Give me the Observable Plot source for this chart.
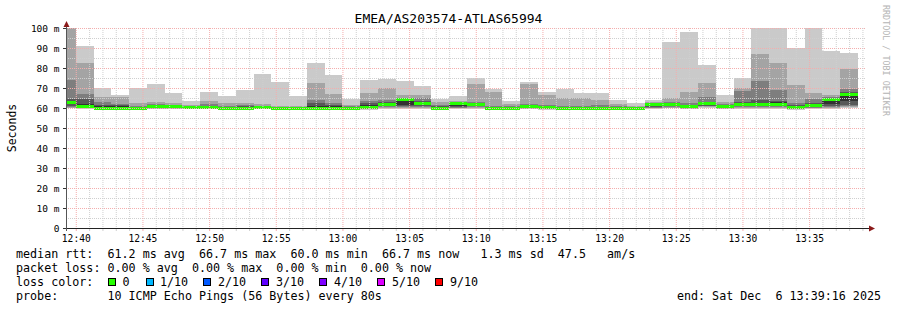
<!DOCTYPE html>
<html><head><meta charset="utf-8">
<script src="https://cdn.jsdelivr.net/npm/d3@7"></script>
<script src="https://cdn.jsdelivr.net/npm/@observablehq/plot@0.6"></script>
<style>
html,body{margin:0;padding:0;background:#fff;}
#chart{position:relative;width:897px;height:310px;overflow:hidden;}
svg text{font-family:"DejaVu Sans Mono",monospace;}
</style></head><body><div id="chart"></div>
<script>
// ---- data (ms) ----
const binStart = ["12:38:40","12:40:00","12:41:20","12:42:40","12:44:00","12:45:20","12:46:40","12:48:00","12:49:20","12:50:40",
  "12:52:00","12:53:20","12:54:40","12:56:00","12:57:20","12:58:40","13:00:00","13:01:20","13:02:40","13:04:00",
  "13:05:20","13:06:40","13:08:00","13:09:20","13:10:40","13:12:00","13:13:20","13:14:40","13:16:00","13:17:20",
  "13:18:40","13:20:00","13:21:20","13:22:40","13:24:00","13:25:20","13:26:40","13:28:00","13:29:20","13:30:40",
  "13:32:00","13:33:20","13:34:40","13:36:00","13:37:20"];
const p10 = [105,91,70,66.5,70,72,67.5,63.5,68,66, 69,77,73,66,82.5,76.5,64.5,74,74.5,73.5, 71,64.5,66,75,69.5,63.5,73,68,69.5,67.5, 67.5,64,62.5,64,93,98,81.5,66.5,75,110, 110,90,105,88.5,87.5];
const p9  = [101,82.5,65.3,65.3,62.5,63,62.5,61.3,63.5,62.5, 62.5,62,61,61,72.5,67,61.7,67.5,70,66.5, 66.5,63,63.5,72,68,62,72,66.5,65,65, 64,62,61,63,65,68,72.5,63,70,87, 82.5,71.5,67.5,66.5,79.5];
const p8  = [73.8,67.2,63.2,62,61,61.8,61.5,61,61.8,61.2, 61.3,61.2,60.6,60.6,64,62.5,60.8,63.5,64,65.2, 65,61.5,63,63,61,60.8,62,61.5,61,61, 61.5,60.8,60.5,62.5,63,62.5,65.5,62,68.5,73.5, 69,62.5,64.5,65.5,69.5];
const p7  = [64.3,64.3,61.5,61.5,60.7,61.2,61.2,60.8,61,60.6, 60.8,60.8,60.4,60.4,62.5,61.5,60.4,62.5,63,65, 63.5,60.8,62.8,62.5,60.5,60.4,61.5,61,60.5,60.5, 60.5,60.3,60.3,62.2,62.5,61.5,63,61.5,63,64, 63.5,61.5,62.5,65,68];
const p6  = [63.5,62,60.8,60.8,60.4,61,61,60.7,60.8,60.2, 60.4,60.7,60.2,60.2,61,60.8,60.2,61.5,62.6,64.8, 63,60.4,62.6,62.1,60.2,60.1,61.2,60.6,60.1,60.1, 60.1,60.1,60.1,62,62.2,61,62.5,61.2,62.4,62.5, 63,61,61.8,64.8,67.2];
const median = [63,61,60,60,60,60.8,60.8,60.5,60.5,60, 60,60.5,60,60,60,60,60,60.5,62,64.5, 62.3,60,62.3,61.7,60,60,61,60.3,60,60, 60,60,60,61.7,62,60.7,62.2,61,62,62, 62,60.5,61.5,64.3,66.7];
const p5  = [62.2,60.5,59.8,59.7,59.7,60.3,60.3,60.2,60.2,59.6, 59.8,60.2,59.8,59.8,59.8,59.8,59.6,60,61.3,61.7, 61.3,59.7,61.2,61.3,59.6,59.6,60.5,60,59.6,59.6, 59.6,59.6,59.8,61,61.5,60.4,61.8,60.6,61.5,61.5, 61.6,60.2,61,62,63.7];
const p4  = [61,60.2,59.6,59.5,59.5,60,60,60,60,59.5, 59.6,60,59.6,59.6,59.6,59.6,59.5,59.7,60.8,61, 60.8,59.5,60.5,61,59.5,59.5,60.2,59.8,59.5,59.5, 59.5,59.5,59.6,60.5,61,60.2,61.2,60.3,61,60.8, 61,59.9,60.6,61,61.5];
const p3  = [60.5,60,59.5,59.3,59.3,59.8,59.8,59.8,59.8,59.4, 59.5,59.8,59.5,59.5,59.5,59.5,59.4,59.5,60.3,60.5, 60.3,59.4,60.2,60.5,59.4,59.4,60,59.6,59.4,59.4, 59.4,59.4,59.5,60.2,60.6,60,60.8,60,60.5,60.3, 60.5,59.7,60.2,60.5,61];
const p2  = [60.2,59.8,59.4,59.2,59.2,59.6,59.6,59.6,59.6,59.3, 59.3,59.6,59.3,59.3,59.3,59.3,59.3,59.3,60,60, 60,59.3,59.9,60,59.3,59.3,59.7,59.4,59.3,59.3, 59.3,59.3,59.3,59.9,60.2,59.7,60.3,59.7,60,59.9, 60.1,59.5,59.9,60,60.3];
const p1  = [59.8,59.5,59.2,59,59,59.3,59.3,59.3,59.3,59.1, 59.1,59.3,59.1,59.1,59.1,59.1,59.1,59.1,59.6,59.5, 59.6,59.1,59.5,59.6,59.1,59.1,59.4,59.2,59.1,59.1, 59.1,59.1,59.1,59.6,59.8,59.4,59.9,59.4,59.6,59.5, 59.7,59.2,59.5,59.5,59.8];

const stepSeconds = 80;
const windowStart = "12:39:16", windowEnd = "13:39:16";
const yTicks = [0,10,20,30,40,50,60,70,80,90,100];
const yTickLabels = ["0","10 m","20 m","30 m","40 m","50 m","60 m","70 m","80 m","90 m","100 m"];
const xTickLabels = ["12:40","12:45","12:50","12:55","13:00","13:05","13:10","13:15","13:20","13:25","13:30","13:35"];
const titleText = "EMEA/AS203574-ATLAS65994";
const yLabel = "Seconds";
const statsLines = [
  "median rtt:  61.2 ms avg  66.7 ms max  60.0 ms min  66.7 ms now   1.3 ms sd  47.5   am/s",
  "packet loss: 0.00 % avg  0.00 % max  0.00 % min  0.00 % now"
];
const lossTitle = "loss color:";
const lossLabels = ["0","1/10","2/10","3/10","4/10","5/10","9/10"];
const lossColors = ["#26ff00","#00b8ff","#0059ff","#5e00ff","#7e00ff","#dd00ff","#ff0000"];
const probeLine = "probe:       10 ICMP Echo Pings (56 Bytes) every 80s";
const endLine = "end: Sat Dec  6 13:39:16 2025";
const watermark = "RRDTOOL / TOBI OETIKER";

// ---- build ----
const T = s => { const [h,m,sec] = s.split(":").map(Number); return new Date(Date.UTC(2025,11,6,h,m,sec||0)); };
const rows = binStart.map((s,i) => ({
  start: T(s), end: new Date(T(s).getTime() + stepSeconds*1000),
  p1:p1[i],p2:p2[i],p3:p3[i],p4:p4[i],p5:p5[i],p6:p6[i],p7:p7[i],p8:p8[i],p9:p9[i],p10:p10[i],median:median[i]
}));
const xDomain = [T(windowStart), T(windowEnd)];
const majorX = xTickLabels.map(T);
const minorX = d3.utcMinute.range(xDomain[0], xDomain[1]).filter(d => d.getUTCMinutes() % 5 !== 0);
const majorY = yTicks.filter(v => v > 0);
const minorY = yTicks.slice(0,-1).map(v => v + 5);

const bands = [["p1","p10","#cacaca"],["p2","p9","#a4a4a4"],["p3","p8","#7e7e7e"],["p4","p7","#585858"],["p5","p6","#323232"]];
const dotted = "1,1";
const gridMinor = "#cfcfcf", gridMajor = "#f4adad";

const plot = Plot.plot({
  width: 897, height: 310,
  marginLeft: 66, marginRight: 31, marginTop: 28, marginBottom: 82,
  style: {background: "#fff", fontFamily: "DejaVu Sans Mono", color: "#000", overflow: "visible"},
  x: {type: "utc", domain: xDomain},
  y: {domain: [0, 100]},
  marks: [
    ...bands.map(([lo,hi,c]) => Plot.rect(rows, {x1:"start", x2:"end", y1:lo, y2:hi, fill:c, clip:true, shapeRendering:"crispEdges"})),
    Plot.rect(rows, {x1:"start", x2:"end", y1: d => d.median - 0.75, y2: d => d.median + 0.75, fill: lossColors[0], clip:true, shapeRendering:"crispEdges"}),
    Plot.gridY(minorY, {stroke:gridMinor, strokeOpacity:1, strokeDasharray:dotted}),
    Plot.gridY(majorY, {stroke:gridMajor, strokeOpacity:1, strokeDasharray:dotted}),
    Plot.gridX(minorX, {stroke:gridMinor, strokeOpacity:1, strokeDasharray:dotted}),
    Plot.gridX(majorX, {stroke:gridMajor, strokeOpacity:1, strokeDasharray:dotted}),
    Plot.axisX(minorX, {tickSize: 3, stroke:gridMinor, strokeOpacity:1, tickFormat: () => ""}),
    Plot.axisX(majorX, {tickSize: 3, stroke:gridMajor, strokeOpacity:1, tickPadding: 4, fill:"#000", fontSize: 9.6,
      tickFormat: (d,i) => xTickLabels[i], label: null}),
    Plot.axisY(yTicks, {tickSize: 3, tickPadding: 4, fontSize: 9.5, fill:"#000", stroke:"#333",
      tickFormat: (d,i) => yTickLabels[i], label: null})
  ]
});
document.getElementById("chart").appendChild(plot);

// ---- decorations (axes lines, arrows, texts) ----
const svg = d3.select(plot);
const xs = plot.scale("x"), ys = plot.scale("y");
const x0 = xs.range[0], x1 = xs.range[1], y0 = ys.range[0], yTop = ys.range[1];
const g = svg.append("g").attr("text-anchor", "start");
g.append("line").attr("x1", x0).attr("x2", x1 + 4).attr("y1", y0 + 0.5).attr("y2", y0 + 0.5).attr("stroke", "#222").attr("stroke-width", 1);
g.append("line").attr("x1", x0 + 0.5).attr("x2", x0 + 0.5).attr("y1", y0 + 3).attr("y2", yTop - 4).attr("stroke", "#555").attr("stroke-width", 1);
g.append("path").attr("d", `M${x1+3},${y0-2.5}L${x1+9},${y0+0.5}L${x1+3},${y0+3.5}Z`).attr("fill", "#8b1a1a");
g.append("path").attr("d", `M${x0-2.5},${yTop-1}L${x0+0.5},${yTop-7}L${x0+3.5},${yTop-1}Z`).attr("fill", "#8b1a1a");

const txt = (x, y, s, size, anchor = "start", fill = "#000") =>
  g.append("text").attr("x", x).attr("y", y).attr("font-size", size).attr("text-anchor", anchor)
   .attr("fill", fill).attr("xml:space", "preserve").style("white-space", "pre").text(s);

txt(448.5, 23, titleText, 13, "middle");
g.append("text").attr("transform", `translate(16,${(y0 + yTop) / 2}) rotate(-90)`).attr("font-size", 11.5)
  .attr("text-anchor", "middle").attr("fill", "#000").text(yLabel);
g.append("text").attr("transform", "translate(883,5) rotate(90)").attr("font-size", 8.4)
  .attr("text-anchor", "start").attr("fill", "#b4b4b4").style("white-space", "pre").text(watermark);

statsLines.forEach((s, i) => txt(16, 258 + i * 14, s, 11.7));
txt(16, 286, lossTitle, 11.7);
const boxX = [108, 146, 203, 261, 319, 377, 435];
const labX = [122.5, 160, 218, 276, 334, 392, 450];
lossLabels.forEach((l, i) => {
  g.append("rect").attr("x", boxX[i] + 0.5).attr("y", 278.5).attr("width", 7).attr("height", 7)
    .attr("fill", lossColors[i]).attr("stroke", "#000").attr("stroke-width", 1);
  txt(labX[i], 286, l, 11.7);
});
txt(16, 300, probeLine, 11.7);
txt(881, 300, endLine, 11.7, "end");
</script></body></html>
